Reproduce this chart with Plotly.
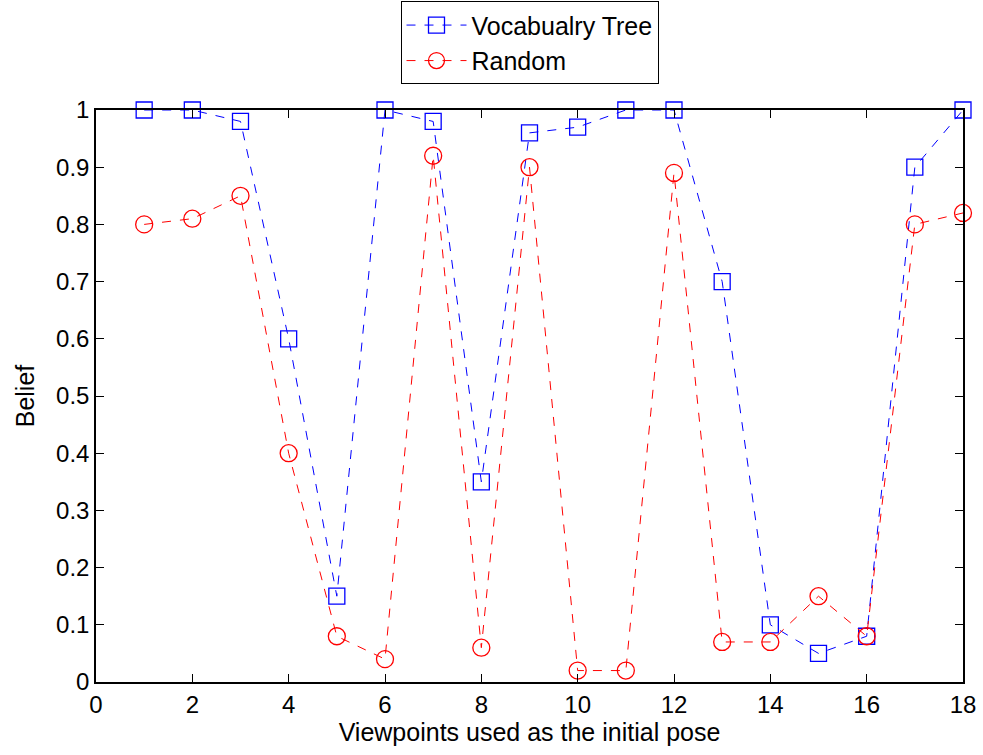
import plotly.graph_objects as go

viewpoints = list(range(1, 19))
vocab_tree = [1.0, 1.0, 0.98, 0.6, 0.15, 1.0, 0.98, 0.35, 0.96, 0.97, 1.0, 1.0, 0.7, 0.1, 0.05, 0.08, 0.9, 1.0]
random_belief = [0.8, 0.81, 0.85, 0.4, 0.08, 0.04, 0.92, 0.06, 0.9, 0.02, 0.02, 0.89, 0.07, 0.07, 0.15, 0.08, 0.8, 0.82]

x_ticks = list(range(0, 19, 2))
y_ticks = [i / 10 for i in range(11)]
y_ticktext = ["0", "0.1", "0.2", "0.3", "0.4", "0.5", "0.6", "0.7", "0.8", "0.9", "1"]

font_family = "Arial, Liberation Sans, sans-serif"

fig = go.Figure()
fig.add_trace(go.Scatter(
    x=viewpoints, y=vocab_tree, name="Vocabualry Tree", mode="lines+markers",
    line=dict(color="#0000ff", width=1, dash="9px,9px"),
    marker=dict(symbol="square-open", size=16, color="#0000ff", line=dict(width=1.3)),
    cliponaxis=False,
))
fig.add_trace(go.Scatter(
    x=viewpoints, y=random_belief, name="Random", mode="lines+markers",
    line=dict(color="#ff0000", width=1, dash="9px,9px"),
    marker=dict(symbol="circle-open", size=17, color="#ff0000", line=dict(width=1.3)),
    cliponaxis=False,
))

axis_common = dict(
    showline=True, linecolor="black", linewidth=1.5, mirror="ticks",
    ticks="inside", ticklen=8, tickcolor="black", tickwidth=1,
    showgrid=False, zeroline=False,
    tickfont=dict(family=font_family, size=24, color="black"),
)

fig.update_layout(
    width=983, height=755,
    paper_bgcolor="white", plot_bgcolor="white",
    margin=dict(l=96, r=20, t=110, b=73, autoexpand=False),
    font=dict(family=font_family, size=24, color="black"),
    xaxis=dict(range=[0, 18], tickvals=x_ticks, ticktext=[str(v) for v in x_ticks],
               title=dict(text="Viewpoints used as the initial pose", font=dict(size=25), standoff=6),
               **axis_common),
    yaxis=dict(range=[0, 1], tickvals=y_ticks, ticktext=y_ticktext,
               title=dict(text="Belief", font=dict(size=25), standoff=14),
               **axis_common),
    legend=dict(x=0.5, xanchor="center", y=1.19, yanchor="top",
                bordercolor="black", borderwidth=1, bgcolor="white",
                font=dict(family=font_family, size=25, color="black"),
                tracegroupgap=0, itemwidth=60),
    showlegend=True,
)

fig.write_html("out.html")
